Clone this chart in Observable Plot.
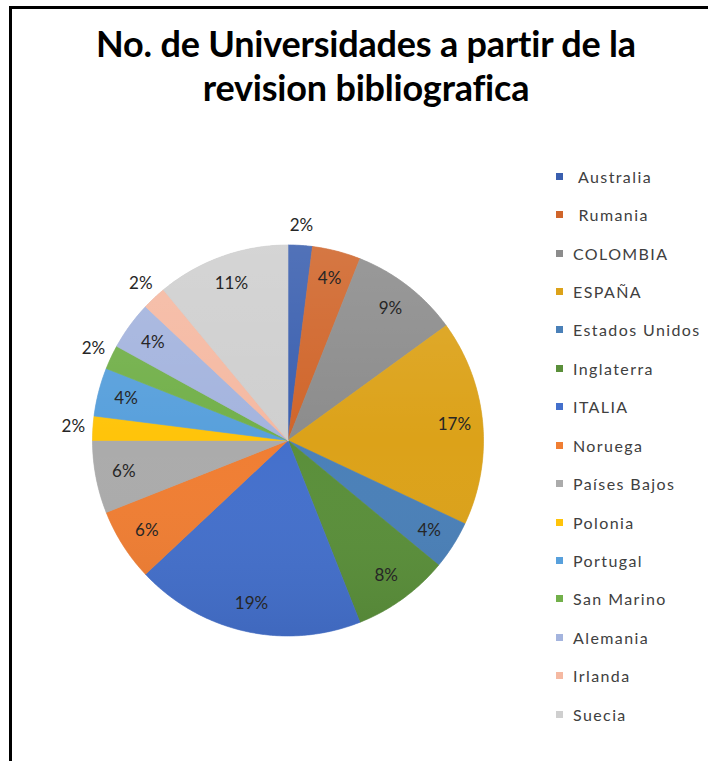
<!DOCTYPE html>
<html><head><meta charset="utf-8">
<script src="https://cdn.jsdelivr.net/npm/d3@7"></script>
<script src="https://cdn.jsdelivr.net/npm/@observablehq/plot@0.6"></script>
<style>
body{margin:0;background:#fff;}
#wrap{position:relative;width:708px;height:761px;overflow:hidden;font-family:Lato,"Open Sans",sans-serif;background:#fff;}
#frame{position:absolute;left:9px;top:6px;width:720px;height:780px;border-top:3px solid #000;border-left:3px solid #000;box-sizing:border-box;}
#title{position:absolute;left:12px;width:708px;top:22px;text-align:center;font-weight:bold;font-size:36px;line-height:43.5px;color:#000;letter-spacing:-0.2px;}
#chart{position:absolute;left:0;top:190px;}
#legend{position:absolute;left:556px;top:157px;}
.row{height:38.43px;display:flex;align-items:center;font-size:16px;color:#404040;letter-spacing:1.4px;white-space:pre;}
.sw{width:7px;height:7px;margin-right:10px;flex:none;}
</style></head>
<body><div id="wrap"><div id="frame"></div>
<div id="title">No. de Universidades a partir de la<br>revision bibliografica</div>
<div id="chart"></div><div id="legend"></div></div>
<script>
const countries = ["Australia","Rumania","COLOMBIA","ESPAÑA","Estados Unidos","Inglaterra","ITALIA","Noruega","Países Bajos","Polonia","Portugal","San Marino","Alemania","Irlanda","Suecia"];
const legendLabels = [" Australia"," Rumania","COLOMBIA","ESPAÑA","Estados Unidos","Inglaterra","ITALIA","Noruega","Países Bajos","Polonia","Portugal","San Marino","Alemania","Irlanda","Suecia"];
const percents = [2,4,9,17,4,8,19,6,6,2,4,2,4,2,11];
const colors = ["#3A5FAF","#D0652A","#8C8C8C","#DCA219","#4A80B8","#5A8F3A","#4470CC","#F07E33","#ABABAB","#FFC40A","#58A0DC","#72B04A","#A4B4DE","#F5B9A2","#CFCFCF"];

const pie = d3.pie().sort(null).value(d => d.value).startAngle(0).endAngle(2*Math.PI);
const arcs = pie(countries.map((name,i)=>({name, value: percents[i]})));

// polygon points per slice (unit circle, angle clockwise from top)
const pts = [];
for (const a of arcs) {
  const n = Math.max(2, Math.ceil((a.endAngle - a.startAngle) / (Math.PI/360)));
  pts.push({name:a.data.name, x:0, y:0});
  for (let k=0;k<=n;k++){
    const t = a.startAngle + (a.endAngle - a.startAngle)*k/n;
    pts.push({name:a.data.name, x:Math.sin(t), y:Math.cos(t)});
  }
  pts.push({name:a.data.name, x:0, y:0});
}
const disk = d3.range(0,721).map(k=>({x:Math.sin(k*Math.PI/360), y:Math.cos(k*Math.PI/360)}));

const labels = arcs.map(a => {
  const m = (a.startAngle + a.endAngle)/2;
  const d = a.data.value <= 2 ? 1.1 : 0.855;
  return {x: d*Math.sin(m), y: d*Math.cos(m), text: a.data.value + "%"};
});

const defs = () => {
  const g = d3.create("svg:defs");
  const lg = g.append("linearGradient").attr("id","shade").attr("x1",0).attr("y1",0).attr("x2",0).attr("y2",1);
  lg.append("stop").attr("offset","0%").attr("stop-color","#fff").attr("stop-opacity",0.12);
  lg.append("stop").attr("offset","50%").attr("stop-color","#fff").attr("stop-opacity",0);
  lg.append("stop").attr("offset","100%").attr("stop-color","#000").attr("stop-opacity",0.07);
  return g.node();
};

const r = 195.5, cx = 287.5, cy = 250;
const chart = Plot.plot({
  width: 540, height: 520, margin: 0,
  x: {domain:[-1,1], range:[cx-r, cx+r], axis:null},
  y: {domain:[-1,1], range:[cy+r, cy-r], axis:null},
  color: {domain: countries, range: colors},
  style: {fontFamily: "Lato, 'Open Sans', sans-serif", background:"transparent", overflow:"visible"},
  marks: [
    defs,
    Plot.line(disk, {x:"x", y:"y", fill:"#ccc", stroke:"none", style:"filter: drop-shadow(1px 3px 3px rgba(0,0,0,0.35))"}),
    Plot.line(pts, {x:"x", y:"y", z:"name", fill:"name", stroke:"name", strokeWidth:0.6, curve:"linear"}),
    Plot.line(disk, {x:"x", y:"y", fill:"url(#shade)", stroke:"none"}),
    Plot.text(labels, {x:"x", y:"y", text:"text", fontSize:17, fill:"#262626", style:"letter-spacing:0.6px"})
  ]
});
document.getElementById("chart").appendChild(chart);

const leg = document.getElementById("legend");
legendLabels.forEach((l,i)=>{
  const row = document.createElement("div"); row.className="row";
  const sw = document.createElement("span"); sw.className="sw"; sw.style.background = colors[i];
  const tx = document.createElement("span"); tx.textContent = l;
  row.appendChild(sw); row.appendChild(tx); leg.appendChild(row);
});
</script></body></html>
